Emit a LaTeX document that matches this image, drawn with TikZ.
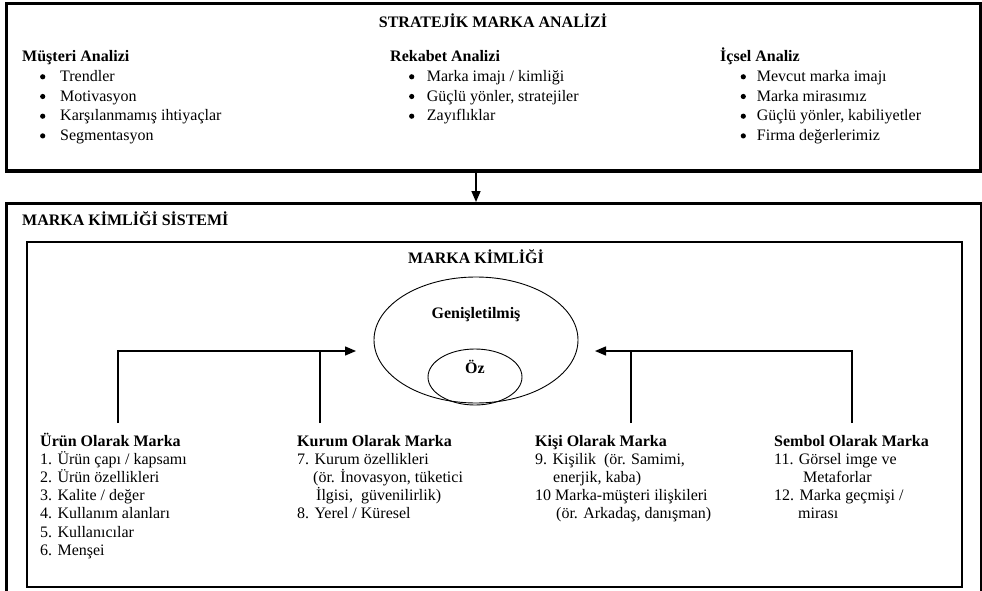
\documentclass[tikz,border=0pt]{standalone}
\usepackage{fontspec}
\setmainfont{Liberation Serif}
\usetikzlibrary{arrows.meta,shapes.geometric}
\begin{document}
\begin{tikzpicture}[x=1pt,y=-1pt,
  font=\fontsize{16}{18}\selectfont,
  txt/.style={anchor=base west, inner sep=0pt},
  hd/.style={anchor=base west, inner sep=0pt, font=\fontsize{16}{18}\selectfont\bfseries},
  bul/.style={circle, fill=black, inner sep=0pt, minimum size=5.2pt},
  conn/.style={line width=1.4pt, line join=miter},
  arr/.style={line width=1.4pt, -{Triangle[length=11pt,width=9pt]}}]
\useasboundingbox (0,0) rectangle (982,591);

% boxes
\node[draw, line width=3.5pt, minimum width=974pt, minimum height=167pt, inner sep=0pt, anchor=north west] (sma) at (4.5,2) {};
\node[draw, line width=3pt, minimum width=975pt, minimum height=440pt, inner sep=0pt, anchor=north west] (mks) at (4.5,202) {};
\node[draw, line width=2pt, minimum width=935.5pt, minimum height=344.5pt, inner sep=0pt, anchor=north west] (mk) at (25.5,241) {};

% top box content
\node[anchor=base, inner sep=0pt, font=\fontsize{16}{18}\selectfont\bfseries] (title) at (493,28) {STRATEJİK MARKA ANALİZİ};

\node[hd] (h1) at (22,62) {Müşteri Analizi};
\node[bul] (b11) at (42.7,76.8) {};   \node[txt] (t11) at (60,81.5) {Trendler};
\node[bul] (b12) at (42.7,96.5) {};   \node[txt] (t12) at (60,101.2) {Motivasyon};
\node[bul] (b13) at (42.7,116.2) {};  \node[txt] (t13) at (60,120.9) {Karşılanmamış ihtiyaçlar};
\node[bul] (b14) at (42.7,135.9) {};  \node[txt] (t14) at (60,140.6) {Segmentasyon};

\node[hd] (h2) at (390,62) {Rekabet Analizi};
\node[bul] (b21) at (411.7,76.8) {};  \node[txt] (t21) at (426.7,81.5) {Marka imajı / kimliği};
\node[bul] (b22) at (411.7,96.5) {};  \node[txt] (t22) at (426.7,101.2) {Güçlü yönler, stratejiler};
\node[bul] (b23) at (411.7,116.2) {}; \node[txt] (t23) at (426.7,120.9) {Zayıflıklar};

\node[hd] (h3) at (720,62) {İçsel Analiz};
\node[bul] (b31) at (743.3,76.8) {};  \node[txt] (t31) at (756.7,81.5) {Mevcut marka imajı};
\node[bul] (b32) at (743.3,96.5) {};  \node[txt] (t32) at (756.7,101.2) {Marka mirasımız};
\node[bul] (b33) at (743.3,116.2) {}; \node[txt] (t33) at (756.7,120.9) {Güçlü yönler, kabiliyetler};
\node[bul] (b34) at (743.3,135.9) {}; \node[txt] (t34) at (756.7,140.6) {Firma değerlerimiz};

% identity system
\node[hd] (sys) at (22,225) {MARKA KİMLİĞİ SİSTEMİ};
\node[anchor=base, inner sep=0pt, font=\fontsize{16}{18}\selectfont\bfseries] (mkt) at (476,263) {MARKA KİMLİĞİ};

\node[ellipse, draw, line width=0.9pt, minimum width=204pt, minimum height=126pt, inner sep=0pt] (gen) at (476,340) {};
\node[ellipse, draw, line width=0.9pt, minimum width=94pt, minimum height=56pt, inner sep=0pt] (oz) at (475,377) {};
\node[anchor=base, inner sep=0pt, font=\fontsize{16}{18}\selectfont\bfseries] (gent) at (476,318) {Genişletilmiş};
\node[anchor=base, inner sep=0pt, font=\fontsize{16}{18}\selectfont\bfseries] (ozt) at (475,373) {Öz};

% arrow between the two boxes
\draw[arr, line width=1.6pt] (sma.south -| gen.center) -- (mks.north -| gen.center);

% connectors
\coordinate (l1) at (118,423);
\coordinate (l2) at (320,423);
\coordinate (tl) at (356,351);
\coordinate (r1) at (631,423);
\coordinate (r2) at (852,423);
\coordinate (tr) at (595,351);
\draw[arr] (l1) |- (tl);
\draw[conn] (l2) -- (l2 |- tl);
\draw[arr] (r2) |- (tr);
\draw[conn] (r1) -- (r1 |- tr);

% column 1
\node[hd]  (c10) at (40,446)   {Ürün Olarak Marka};
\node[txt] (c11) at (40,464.2) {1. Ürün çapı / kapsamı};
\node[txt] (c12) at (40,482.4) {2. Ürün özellikleri};
\node[txt] (c13) at (40,500.6) {3. Kalite / değer};
\node[txt] (c14) at (40,518.8) {4. Kullanım alanları};
\node[txt] (c15) at (40,537)   {5. Kullanıcılar};
\node[txt] (c16) at (40,555.2) {6. Menşei};

% column 2
\node[hd]  (c20) at (297,446)   {Kurum Olarak Marka};
\node[txt] (c21) at (297,464.2) {7. Kurum özellikleri};
\node[txt] (c22) at (313,482.4) {(ör. İnovasyon, tüketici};
\node[txt] (c23) at (316,500.6) {İlgisi,\ \ güvenilirlik)};
\node[txt] (c24) at (297,518.8) {8. Yerel / Küresel};

% column 3
\node[hd]  (c30) at (535,446)   {Kişi Olarak Marka};
\node[txt] (c31) at (535,464.2) {9. Kişilik\ \ (ör. Samimi,};
\node[txt] (c32) at (553,482.4) {enerjik, kaba)};
\node[txt] (c33) at (535,500.6) {10 Marka-müşteri ilişkileri};
\node[txt] (c34) at (556,518.8) {(ör. Arkadaş, danışman)};

% column 4
\node[hd]  (c40) at (774,446)   {Sembol Olarak Marka};
\node[txt] (c41) at (774,464.2) {11. Görsel imge ve};
\node[txt] (c42) at (803,482.4) {Metaforlar};
\node[txt] (c43) at (774,500.6) {12. Marka geçmişi /};
\node[txt] (c44) at (798,518.8) {mirası};
\end{tikzpicture}
\end{document}
